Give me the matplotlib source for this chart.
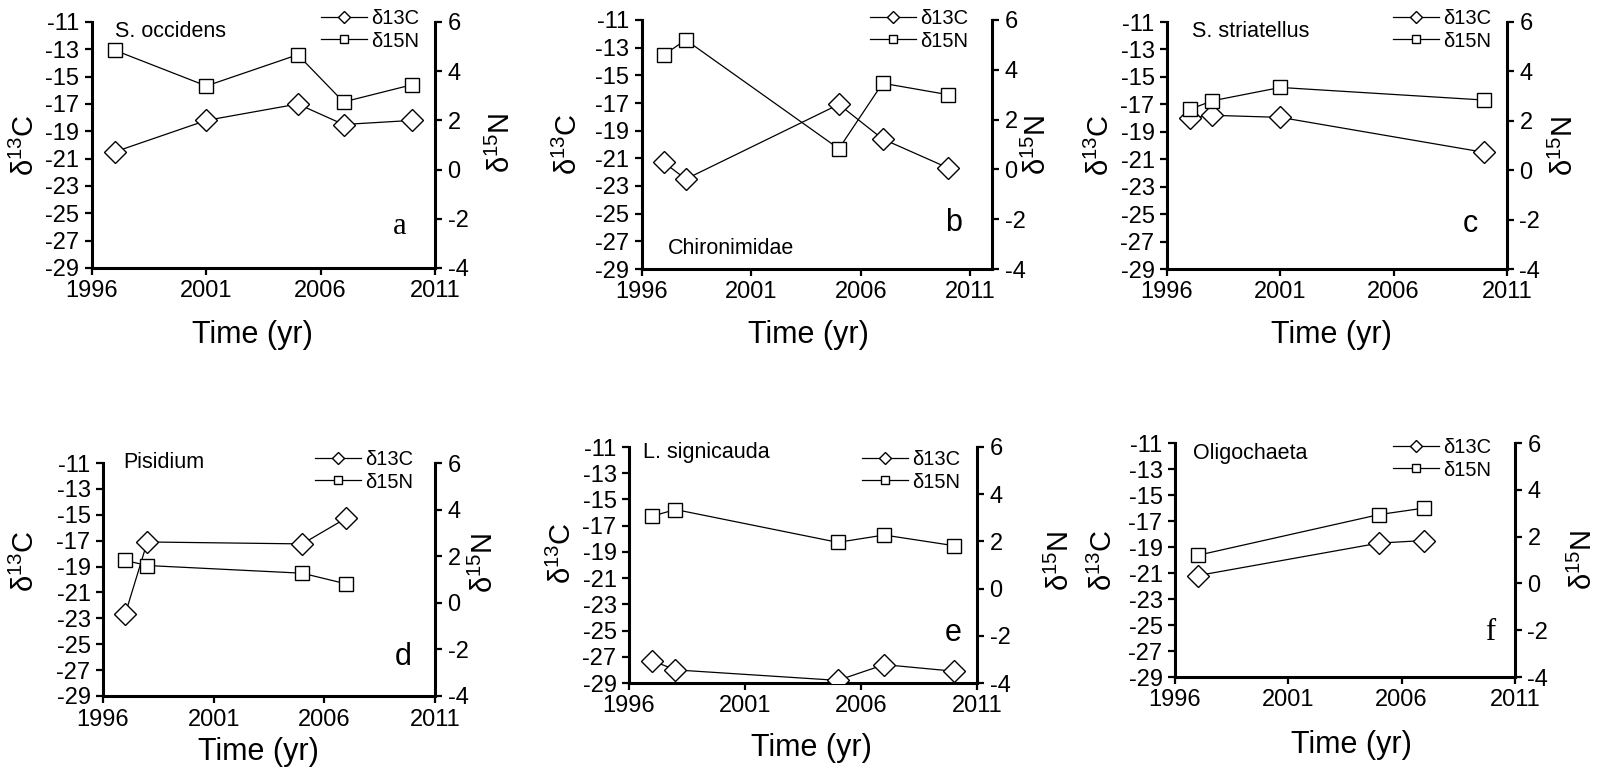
import matplotlib
matplotlib.use("Agg")
import matplotlib.pyplot as plt

plt.rcParams["font.family"] = ["Liberation Sans", "DejaVu Sans"]
plt.rcParams["mathtext.fontset"] = "custom"
plt.rcParams["mathtext.rm"] = "Liberation Sans"
plt.rcParams["mathtext.it"] = "Liberation Sans:italic"
plt.rcParams["axes.unicode_minus"] = False

W, H = 1614, 773

# --- dados ---
years_a = [1997, 2001, 2005, 2007, 2010]
d13c_a = [-20.5, -18.2, -17.0, -18.5, -18.2]
d15n_a = [4.85, 3.40, 4.67, 2.75, 3.45]

years_b = [1997, 1998, 2005, 2007, 2010]
d13c_b = [-21.3, -22.5, -17.1, -19.6, -21.7]
d15n_b = [4.60, 5.20, 0.83, 3.46, 3.00]

years_c = [1997, 1998, 2001, 2010]
d13c_c = [-18.0, -17.8, -17.95, -20.5]
d15n_c = [2.46, 2.81, 3.35, 2.84]

years_d = [1997, 1998, 2005, 2007]
d13c_d = [-22.7, -17.1, -17.25, -15.25]
d15n_d = [1.82, 1.60, 1.27, 0.81]

years_e = [1997, 1998, 2005, 2007, 2010]
d13c_e = [-27.3, -28.0, -28.8, -27.6, -28.1]
d15n_e = [3.07, 3.35, 1.96, 2.27, 1.82]

years_f = [1997, 2005, 2007]
d13c_f = [-21.2, -18.7, -18.5]
d15n_f = [1.20, 2.94, 3.22]

species = ["S. occidens", "Chironimidae", "S. striatellus",
           "Pisidium", "L. signicauda", "Oligochaeta"]
letters = ["a", "b", "c", "d", "e", "f"]

# --- layout (pixels da figura de referencia) ---
# (esq, dir, topo, base)
boxes = [(92, 435, 22, 268), (642, 992, 20, 269), (1167, 1507, 22, 269),
         (103, 435, 463, 696), (629, 977, 447, 683), (1175, 1515, 443, 677)]
xmax = [2011, 2012, 2011, 2011, 2011, 2011]
species_pos = [(0.067, 0.96), (0.074, 0.084), (0.074, 0.96),
               (0.06, 1.0), (0.04, 0.975), (0.053, 0.957)]
letter_pos = [(0.898, 0.167), (0.889, 0.185), (0.891, 0.182),
              (0.904, 0.167), (0.931, 0.21), (0.926, 0.19)]
letter_serif = [True, False, False, False, False, True]
ylab_left = [(-0.195, 0.5), (-0.21, 0.5), (-0.197, 0.5),
             (-0.235, 0.58), (-0.19, 0.55), (-0.21, 0.5)]
ylab_right = [(1.195, 0.51), (1.13, 0.5), (1.17, 0.5),
              (1.15, 0.57), (1.24, 0.52), (1.2, 0.5)]
legend_anchor = [(321, 30), (870, 30), (1393, 30),
                 (315, 471), (862, 471), (1393, 459)]
xlab_pos = [(252, 335), (808, 335), (1331, 335),
            (258, 752), (811, 748), (1351, 745)]

series = [(years_a, d13c_a, d15n_a), (years_b, d13c_b, d15n_b),
          (years_c, d13c_c, d15n_c), (years_d, d13c_d, d15n_d),
          (years_e, d13c_e, d15n_e), (years_f, d13c_f, d15n_f)]

fig = plt.figure(figsize=(W / 100, H / 100), dpi=100)

for k, (yrs, c13, n15) in enumerate(series):
    l, r, t, b = boxes[k]
    ax = fig.add_axes([l / W, 1 - b / H, (r - l) / W, (b - t) / H])
    ax2 = ax.twinx()

    lc, = ax.plot(yrs, c13, "-", color="black", lw=0.9, marker="D", ms=11,
                  mfc="white", mec="black", mew=1.0, label="δ13C", zorder=3)
    ln, = ax2.plot(yrs, n15, "-", color="black", lw=0.9, marker="s", ms=10,
                   mfc="white", mec="black", mew=1.0, label="δ15N", zorder=3)

    ax.set_xlim(1996, xmax[k])
    ax.set_xticks([1996, 2001, 2006, 2011])
    ax.set_ylim(-29, -11)
    ax.set_yticks(range(-29, -10, 2))
    ax2.set_ylim(-4, 6)
    ax2.set_yticks(range(-4, 7, 2))

    for a in (ax, ax2):
        a.spines["top"].set_visible(False)
        a.patch.set_visible(False)
        for s in a.spines.values():
            s.set_linewidth(2.2)
        a.tick_params(direction="out", length=5, width=1.6, labelsize=17,
                      pad=4)
    ax.spines["right"].set_visible(False)
    ax2.spines["left"].set_visible(False)
    ax2.spines["bottom"].set_visible(False)

    ax.set_ylabel("δ$^{13}$C", fontsize=21)
    ax.yaxis.set_label_coords(*ylab_left[k])
    ax.yaxis.label.set_verticalalignment("center")
    ax2.set_ylabel("δ$^{15}$N", fontsize=21)
    ax2.yaxis.set_label_coords(*ylab_right[k])
    ax2.yaxis.label.set_verticalalignment("center")

    xx, yy = xlab_pos[k]
    fig.text(xx / W, 1 - yy / H, "Time (yr)", fontsize=22,
             ha="center", va="center")

    ax.text(*species_pos[k], species[k], transform=ax.transAxes,
            fontsize=15.5, ha="left", va="center")
    ax.text(*letter_pos[k], letters[k], transform=ax.transAxes,
            fontsize=22, ha="center", va="center",
            family="Liberation Serif" if letter_serif[k] else None)

    lx, ly = legend_anchor[k]
    ax2.legend(handles=[lc, ln], loc="center left",
               bbox_to_anchor=(lx / W, 1 - ly / H),
               bbox_transform=fig.transFigure, frameon=False,
               fontsize=14.5, markerscale=0.55, handlelength=2.3,
               handletextpad=0.2, borderpad=0, borderaxespad=0,
               labelspacing=0.15)

fig.savefig("out.png", dpi=100)
